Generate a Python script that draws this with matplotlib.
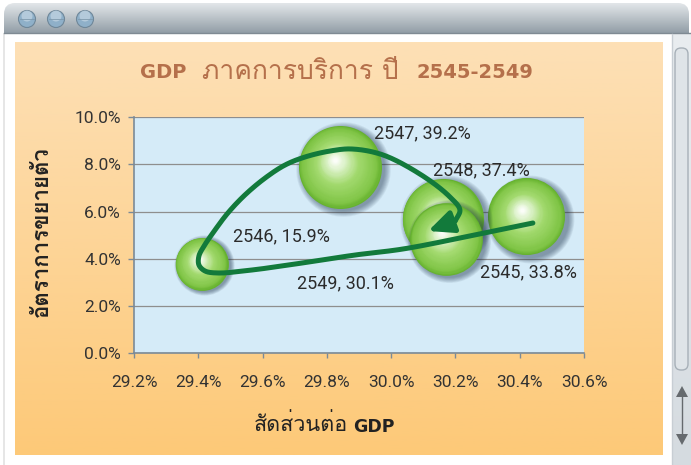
import numpy as np
import matplotlib
matplotlib.use('Agg')
import matplotlib.pyplot as plt
import matplotlib.colors as mcolors
from matplotlib import font_manager
from matplotlib.ft2font import FT2Font
from matplotlib.transforms import offset_copy
from matplotlib.patches import FancyBboxPatch, Circle, Polygon

# ---------------- data ----------------
years = ['2545', '2546', '2547', '2548', '2549']
gdp_share = [30.42, 29.41, 29.84, 30.16, 30.17]      # x, % of GDP
growth = [5.8, 3.8, 7.9, 5.7, 4.85]                  # y, growth %
bubble_size = [33.8, 15.9, 39.2, 37.4, 30.1]         # bubble value, %
x_ticks = [29.2, 29.4, 29.6, 29.8, 30.0, 30.2, 30.4, 30.6]
y_ticks = [0, 2, 4, 6, 8, 10]
title_parts = ['GDP', 'ภาคการบริการ ปี', '2545-2549']
x_label_parts = ['สัดส่วนต่อ', 'GDP']
y_label = 'อัตราการขยายตัว'
# decorative hand-drawn arrow waypoints (x in %, y in %)
arrow_x = [30.441, 30.245, 30.037, 29.888, 29.723, 29.567, 29.461, 29.421, 29.402, 29.402,
           29.418, 29.452, 29.492, 29.545, 29.608, 29.670, 29.732, 29.810, 29.878, 29.975,
           30.099, 30.183, 30.214, 30.199]
arrow_y = [5.521, 4.970, 4.420, 4.165, 3.826, 3.530, 3.403, 3.487, 3.742, 4.123,
           4.547, 5.225, 5.945, 6.708, 7.428, 7.979, 8.318, 8.572, 8.657, 8.403,
           7.513, 6.623, 6.072, 5.606]
arrow_tip = (30.115, 5.182)

# label offsets (points) from bubble centre
label_offsets = [(-33, -40), (22.7, 19.9), (24.7, 24.4), (-6.9, 35.1), (-107, -31.8)]


# ---------------- fonts ----------------
def find_thai_font():
    ents = list(font_manager.fontManager.ttflist)
    ents.sort(key=lambda fe: 0 if ('thai' in fe.name.lower() or 'tlwg' in fe.fname.lower()
                                   or 'thai' in fe.fname.lower()) else 1)
    for fe in ents:
        try:
            cm = FT2Font(fe.fname).get_charmap()
            if 0x0E01 in cm and 0x0E32 in cm:
                return fe.name
        except Exception:
            continue
    return None


def has_family(name):
    try:
        font_manager.findfont(font_manager.FontProperties(family=name), fallback_to_default=False)
        return True
    except Exception:
        return False


thai = find_thai_font()
thai_fam = [thai, 'DejaVu Sans'] if thai else ['DejaVu Sans']
if has_family('Liberation Sans Narrow'):
    num_fam, num_size_tick, num_size_lab = 'Liberation Sans Narrow', 14, 14
elif has_family('Roboto'):
    num_fam, num_size_tick, num_size_lab = 'Roboto', 12.5, 13
else:
    num_fam, num_size_tick, num_size_lab = 'DejaVu Sans', 10.5, 11

W, H = 691, 465
fig = plt.figure(figsize=(W / 100, H / 100), dpi=100)
fig.patch.set_facecolor('white')

# ---------------- window chrome / background ----------------
bg = fig.add_axes([0, 0, 1, 1], zorder=-10)
bg.set_xlim(0, W)
bg.set_ylim(H, 0)
bg.axis('off')


def vgrad(c_top, c_bot, n=256):
    a = np.array(mcolors.to_rgb(c_top))
    b = np.array(mcolors.to_rgb(c_bot))
    t = np.linspace(0, 1, n)[:, None, None]
    return a * (1 - t) + b * t


# title bar
tb_clip = FancyBboxPatch((4, 3), W - 6, 60, boxstyle='round,pad=0,rounding_size=11',
                         transform=bg.transData, facecolor='none', edgecolor='none')
bg.add_patch(tb_clip)
im = bg.imshow(vgrad('#e3e7ea', '#8f9ba4'), extent=[0, W, 34, 3], aspect='auto',
               origin='upper', zorder=1)
im.set_clip_path(tb_clip)
bg.plot([4, W], [33.5, 33.5], color='#7f8a93', lw=1, zorder=2)
for cx in (27, 56, 85):
    bg.add_patch(Circle((cx, 19), 8.5, facecolor='#8fb0c9', edgecolor='#6f8799', lw=0.8, zorder=3))
    bg.add_patch(Circle((cx, 16), 5.5, facecolor='#c4d6e3', edgecolor='none', alpha=0.7, zorder=3))
    bg.plot([cx - 7, cx + 7], [19, 19], color='#7f99ad', lw=0.6, zorder=3)

# window left border
bg.plot([4.5, 4.5], [34, H], color='#e2e2e2', lw=1.2, zorder=1)

# orange panel
bg.imshow(vgrad('#fde0b6', '#fdc978'), extent=[15, 663, 455, 43], aspect='auto',
          origin='upper', zorder=1)

# scrollbar
bg.imshow(vgrad('#e9edf0', '#d5dbe0'), extent=[672, W, H, 34], aspect='auto', origin='upper', zorder=1)
bg.plot([672, 672], [34, H], color='#c8ced4', lw=1, zorder=2)
bg.add_patch(FancyBboxPatch((675, 48), 13, 322, boxstyle='round,pad=0,rounding_size=6',
                            facecolor='#dfe4e8', edgecolor='#a7b0b8', lw=1, zorder=3))
bg.add_patch(Polygon([[682, 386], [676, 397], [688, 397]], facecolor='#666a6e', zorder=3))
bg.add_patch(Polygon([[682, 445], [676, 434], [688, 434]], facecolor='#666a6e', zorder=3))
bg.plot([682, 682], [397, 434], color='#666a6e', lw=1, zorder=3)

# ---------------- main axes ----------------
ax = fig.add_axes([134 / W, 1 - 353.3 / H, 450 / W, 236 / H])
ax.set_facecolor('#d5ebf8')
ax.set_xlim(x_ticks[0], x_ticks[-1])
ax.set_ylim(y_ticks[0], y_ticks[-1])
ax.set_xticks(x_ticks)
ax.set_yticks(y_ticks)
ax.set_xticklabels([f'{v:.1f}%' for v in x_ticks], fontfamily=num_fam, fontsize=num_size_tick, color='#333333')
ax.set_yticklabels([f'{v:.1f}%' for v in y_ticks], fontfamily=num_fam, fontsize=num_size_tick, color='#333333')
ax.tick_params(axis='x', direction='out', length=3.5, width=1, color='#7b8a97', pad=12)
ax.tick_params(axis='y', direction='out', length=4.5, width=1, color='#7b8a97', pad=5)
for s in ('top', 'right'):
    ax.spines[s].set_visible(False)
for s in ('left', 'bottom'):
    ax.spines[s].set_color('#7b8a97')
    ax.spines[s].set_linewidth(1.2)
ax.yaxis.grid(True, color='#8e8e8e', lw=0.9)
ax.set_axisbelow(True)

# ---------------- bubbles ----------------
stops = [(0.0, '#66b22f'), (0.1, '#80c546'), (0.5, '#a3da6f'), (0.8, '#dcf2c9'), (1.0, '#ffffff')]


def grad_color(u):
    for (t0, c0), (t1, c1) in zip(stops[:-1], stops[1:]):
        if u <= t1:
            a = (u - t0) / (t1 - t0)
            return tuple(np.array(mcolors.to_rgb(c0)) * (1 - a) + np.array(mcolors.to_rgb(c1)) * a)
    return mcolors.to_rgb(stops[-1][1])


SCALE = (83 * 0.72) ** 2 / max(bubble_size)   # points^2 per unit of bubble value
n_layers = 40
for xi, yi, si in zip(gdp_share, growth, bubble_size):
    d = np.sqrt(si * SCALE)
    r = d / 2
    # soft shadow (right / below)
    for k in range(8):
        tr = offset_copy(ax.transData, fig=fig, x=0.09 * r, y=-0.06 * r, units='points')
        ax.scatter([xi], [yi], s=(d * (1.0 + 0.02 * k)) ** 2, color='#1a2f48', alpha=0.065,
                   lw=0, transform=tr, zorder=3, clip_on=False)
    for j in range(n_layers):
        u = j / n_layers
        rho = 1 - 0.97 * u
        tr = offset_copy(ax.transData, fig=fig, x=-0.12 * r * u, y=0.18 * r * u, units='points')
        ax.scatter([xi], [yi], s=(d * rho) ** 2, color=grad_color(u), lw=0,
                   transform=tr, zorder=3, clip_on=False)


# ---------------- decorative arrow (centripetal Catmull-Rom in display space) ----------------
def centripetal_cr(P, n=24):
    P = np.vstack([P[0] * 2 - P[1], P, P[-1] * 2 - P[-2]])
    out = []
    for i in range(1, len(P) - 2):
        p0, p1, p2, p3 = P[i - 1], P[i], P[i + 1], P[i + 2]
        t0 = 0.0
        t1 = t0 + max(np.linalg.norm(p1 - p0), 1e-6) ** 0.5
        t2 = t1 + max(np.linalg.norm(p2 - p1), 1e-6) ** 0.5
        t3 = t2 + max(np.linalg.norm(p3 - p2), 1e-6) ** 0.5
        for t in np.linspace(t1, t2, n, endpoint=False):
            a1 = (t1 - t) / (t1 - t0) * p0 + (t - t0) / (t1 - t0) * p1
            a2 = (t2 - t) / (t2 - t1) * p1 + (t - t1) / (t2 - t1) * p2
            a3 = (t3 - t) / (t3 - t2) * p2 + (t - t2) / (t3 - t2) * p3
            b1 = (t2 - t) / (t2 - t0) * a1 + (t - t0) / (t2 - t0) * a2
            b2 = (t3 - t) / (t3 - t1) * a2 + (t - t1) / (t3 - t1) * a3
            out.append((t2 - t) / (t2 - t1) * b1 + (t - t1) / (t2 - t1) * b2)
    out.append(P[-2])
    return np.array(out)


arrow_col = '#127a3b'
disp = ax.transData.transform(np.column_stack([arrow_x, arrow_y]))
curve = ax.transData.inverted().transform(centripetal_cr(disp))
ax.plot(curve[:, 0], curve[:, 1], color=arrow_col, lw=3.6, solid_capstyle='round',
        solid_joinstyle='round', zorder=5)
ax.annotate('', xy=arrow_tip, xytext=(arrow_x[-1], arrow_y[-1]),
            arrowprops=dict(arrowstyle='-|>,head_length=0.75,head_width=0.34', mutation_scale=20,
                            color=arrow_col, lw=3.6, shrinkA=0, shrinkB=0), zorder=6)

# ---------------- data labels ----------------
for yr, xi, yi, si, off in zip(years, gdp_share, growth, bubble_size, label_offsets):
    ax.annotate(f'{yr}, {si:.1f}%', xy=(xi, yi), xytext=off, textcoords='offset points',
                ha='left', va='center', fontfamily=num_fam, fontsize=num_size_lab,
                color='#2b2b2b', zorder=7)

# ---------------- titles ----------------
tcol = '#b5704b'
bg.text(140, 73, title_parts[0], ha='left', va='center', fontsize=14, fontweight='bold',
        color=tcol, family='DejaVu Sans', zorder=5)
bg.text(300, 72, title_parts[1], ha='center', va='center', fontsize=19,
        color=tcol, family=thai_fam, zorder=5)
bg.text(533, 73, title_parts[2], ha='right', va='center', fontsize=14, fontweight='bold',
        color=tcol, family='DejaVu Sans', zorder=5)

bg.text(348, 425, x_label_parts[0], ha='right', va='center', fontsize=15.5,
        color='#222222', family=thai_fam, zorder=5)
bg.text(353, 427, x_label_parts[1], ha='left', va='center', fontsize=12.5, fontweight='bold',
        color='#222222', family='DejaVu Sans', zorder=5)

bg.text(42, 232, y_label, ha='center', va='center', rotation=90, fontsize=16, fontweight='bold',
        color='#222222', family=thai_fam, zorder=5)

fig.savefig('out.png', dpi=100)
